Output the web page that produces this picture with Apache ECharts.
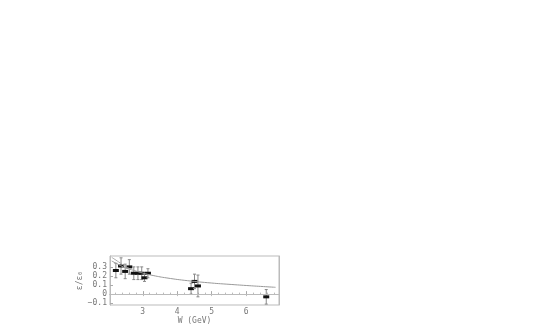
<!DOCTYPE html>
<html><head><meta charset="utf-8">
<script src="https://cdn.jsdelivr.net/npm/echarts@6/dist/echarts.min.js"></script>
<style>html,body{margin:0;padding:0;background:#fff}#c{width:545px;height:327px}</style>
</head><body><div id="c"></div>
<script>
// Data points: W (GeV), value, error
const ptW   = [2.22, 2.37, 2.49, 2.61, 2.74, 2.86, 2.97, 3.05, 3.15, 4.40, 4.50, 4.60, 6.58];
const ptVal = [0.26, 0.31, 0.25, 0.30, 0.23, 0.23, 0.23, 0.18, 0.23, 0.06, 0.14, 0.09, -0.03];
const ptErr = [0.08, 0.09, 0.08, 0.08, 0.07, 0.07, 0.07, 0.04, 0.05, 0.06, 0.08, 0.12, 0.08];
// Theory curve
const curveW   = [2.1, 2.3, 2.5, 2.75, 3.0, 3.3, 3.7, 4.3, 5.0, 5.5, 6.0, 6.5, 6.85];
const curveVal = [0.365, 0.325, 0.29, 0.26, 0.232, 0.205, 0.178, 0.148, 0.122, 0.108, 0.095, 0.083, 0.075];
const curve2W   = [2.1, 2.3, 2.5, 2.65];
const curve2Val = [0.405, 0.355, 0.305, 0.275];
const xTicks = [3, 4, 5, 6];
const yTicks = [-0.1, 0, 0.1, 0.2, 0.3];

const pts = ptW.map((w, i) => [w, ptVal[i], ptErr[i]]);
const font = {fontFamily: 'DejaVu Sans Mono', fontSize: 8, color: '#777'};

const chart = echarts.init(document.getElementById('c'));
chart.setOption({
  animation: false,
  grid: {left: 110, right: 266, top: 256, bottom: 22, show: true, borderColor: '#bbb', borderWidth: 1, backgroundColor: 'transparent'},
  xAxis: [{
    type: 'value', min: 2.05, max: 6.95,
    name: 'W (GeV)', nameLocation: 'middle', nameGap: 11,
    nameTextStyle: font,
    axisLine: {show: true, lineStyle: {color: '#bbb'}},
    axisTick: {show: true, inside: true, length: 3, customValues: xTicks, lineStyle: {color: '#aaa'}},
    minorTick: {show: true, splitNumber: 5, length: 1.5, lineStyle: {color: '#bbb'}},
    axisLabel: {customValues: xTicks, ...font, margin: 3},
    splitLine: {show: false}
  }, {
    type: 'value', min: 2.05, max: 6.95, position: 'top',
    axisLine: {show: true, lineStyle: {color: '#bbb'}},
    axisTick: {show: true, inside: true, length: 2, customValues: xTicks, lineStyle: {color: '#bbb'}},
    axisLabel: {show: false}, splitLine: {show: false}
  }],
  yAxis: [{
    type: 'value', min: -0.12, max: 0.42,
    name: 'ε/ε\u2080', nameLocation: 'middle', nameGap: 24, nameRotate: 90,
    nameTextStyle: font,
    axisLine: {show: true, lineStyle: {color: '#bbb'}},
    axisTick: {show: true, inside: true, length: 3, customValues: yTicks, lineStyle: {color: '#aaa'}},
    axisLabel: {customValues: yTicks, ...font, margin: 3,
      formatter: v => (Math.abs(v) < 1e-9 ? '0' : (v < 0 ? '\u2212' + (-v).toFixed(1) : v.toFixed(1)))},
    splitLine: {show: false}
  }, {
    type: 'value', min: -0.12, max: 0.42, position: 'right',
    axisLine: {show: true, lineStyle: {color: '#bbb'}},
    axisTick: {show: false},
    axisLabel: {show: false}, splitLine: {show: false}
  }],
  series: [
    {type: 'line', data: curveW.map((w, i) => [w, curveVal[i]]), smooth: true, symbol: 'none',
     lineStyle: {color: '#999', width: 1},
     markLine: {silent: true, symbol: 'none', label: {show: false},
       lineStyle: {color: '#bbb', width: 1, type: 'solid'}, data: [{yAxis: 0}]}},
    {type: 'line', data: curve2W.map((w, i) => [w, curve2Val[i]]), smooth: true, symbol: 'none',
     lineStyle: {color: '#aaa', width: 1}},
    {type: 'custom', data: pts,
     renderItem: (params, api) => {
       const x = api.value(0), y = api.value(1), e = api.value(2);
       const p = api.coord([x, y]), hi = api.coord([x, y + e]), lo = api.coord([x, y - e]);
       const st = {stroke: '#888', lineWidth: 1};
       return {type: 'group', children: [
         {type: 'line', shape: {x1: p[0], y1: hi[1], x2: p[0], y2: lo[1]}, style: st},
         {type: 'line', shape: {x1: p[0] - 1.5, y1: hi[1], x2: p[0] + 1.5, y2: hi[1]}, style: st},
         {type: 'line', shape: {x1: p[0] - 1.5, y1: lo[1], x2: p[0] + 1.5, y2: lo[1]}, style: st},
         {type: 'rect', shape: {x: p[0] - 3, y: p[1] - 1.5, width: 6, height: 3}, style: {fill: '#111'}}
       ]};
     }}
  ]
});
</script></body></html>
